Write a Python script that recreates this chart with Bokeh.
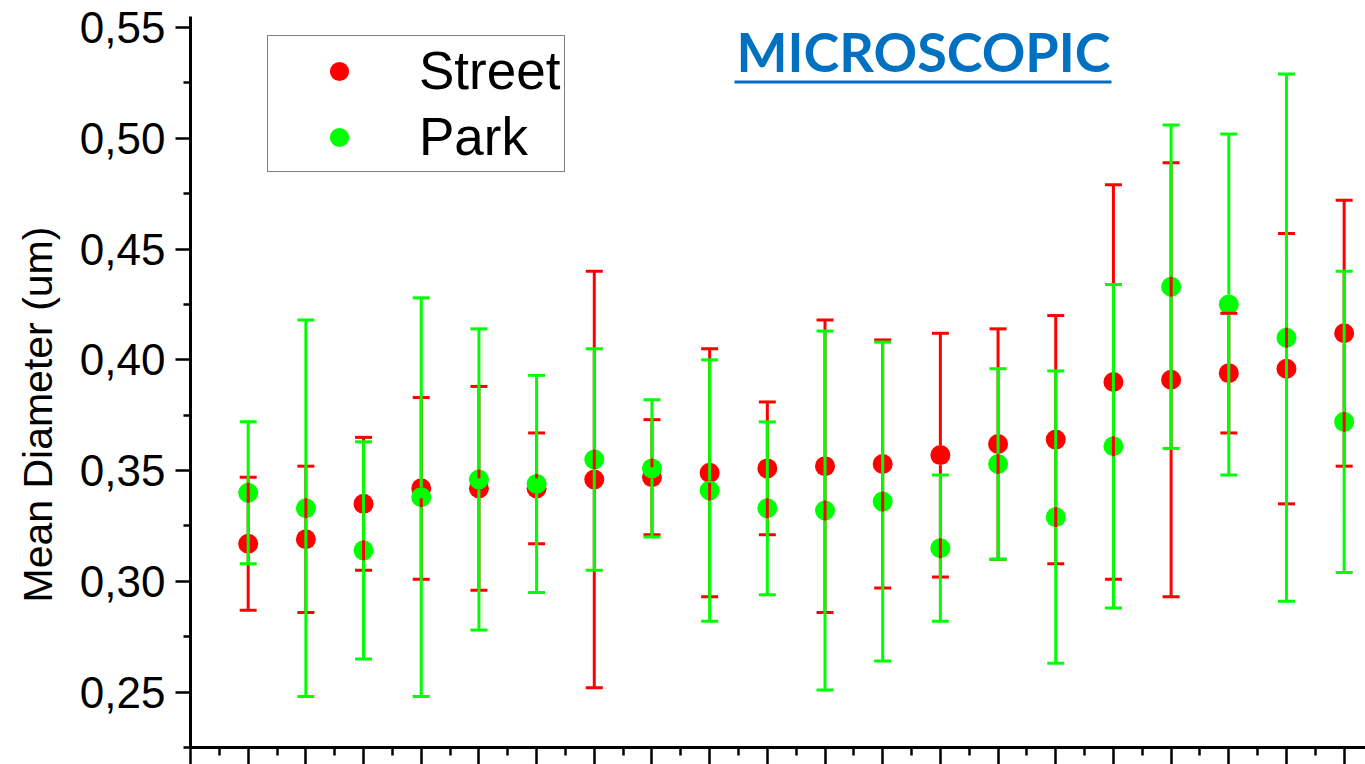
from bokeh.embed import file_html
from bokeh.models import (BoxAnnotation, CustomJSTickFormatter, FixedTicker, Label,
                          Legend, LegendItem, Range1d, Title)
from bokeh.plotting import figure
from bokeh.resources import INLINE

# Sampling sites along the x axis
sites = list(range(1, 21))

# Mean particle diameter (um) and its error, per site
street_mean = [0.317, 0.319, 0.335, 0.342, 0.342, 0.342, 0.346, 0.347, 0.349, 0.351,
               0.352, 0.353, 0.357, 0.362, 0.364, 0.390, 0.391, 0.394, 0.396, 0.412]
street_err = [0.030, 0.033, 0.030, 0.041, 0.046, 0.025, 0.094, 0.026, 0.056, 0.030,
              0.066, 0.056, 0.055, 0.052, 0.056, 0.089, 0.098, 0.027, 0.061, 0.060]

park_mean = [0.340, 0.333, 0.314, 0.338, 0.346, 0.344, 0.355, 0.351, 0.341, 0.333,
             0.332, 0.336, 0.315, 0.353, 0.329, 0.361, 0.433, 0.425, 0.410, 0.372]
park_err = [0.032, 0.085, 0.049, 0.090, 0.068, 0.049, 0.050, 0.031, 0.059, 0.039,
            0.081, 0.072, 0.033, 0.043, 0.066, 0.073, 0.073, 0.077, 0.119, 0.068]

y_ticks = [0.25, 0.30, 0.35, 0.40, 0.45, 0.50, 0.55]
y_tick_labels = ["0,25", "0,30", "0,35", "0,40", "0,45", "0,50", "0,55"]
x_ticks = list(range(0, 21))

RED = "#FF0000"
GREEN = "#00FF00"
BLUE = "#0070C0"

W, H = 1365, 764
LEFT, TOP, BOTTOM = 190, 16, 17
Y0, Y1 = 0.225, 0.555
X0, X1 = 0, 20.37
DOT = 20  # marker diameter in px

p = figure(width=W, height=H, x_range=Range1d(X0, X1), y_range=Range1d(Y0, Y1),
           output_backend="svg", toolbar_location=None,
           min_border_left=LEFT, min_border_right=0,
           min_border_top=TOP, min_border_bottom=BOTTOM)
p.grid.visible = False
p.outline_line_color = None
p.background_fill_color = "white"
p.border_fill_color = "white"

# error stems stop at the edge of their own marker
units_per_px = (Y1 - Y0) / (H - TOP - BOTTOM)
gap = (DOT / 2) * units_per_px


def stems(mean, err):
    up0 = [m + gap for m in mean]
    up1 = [m + e for m, e in zip(mean, err)]
    lo0 = [m - e for m, e in zip(mean, err)]
    lo1 = [m - gap for m in mean]
    return up0, up1, lo0, lo1


r_street = p.scatter(sites, street_mean, size=DOT, fill_color=RED, line_color=None)
r_park = p.scatter(sites, park_mean, size=DOT, fill_color=GREEN, line_color=None)

for mean, err, color in ((street_mean, street_err, RED), (park_mean, park_err, GREEN)):
    up0, up1, lo0, lo1 = stems(mean, err)
    p.segment(sites, up0, sites, up1, line_color=color, line_width=3)
    p.segment(sites, lo0, sites, lo1, line_color=color, line_width=3)
    p.scatter(sites, up1, marker="dash", size=17, line_color=color, line_width=3)
    p.scatter(sites, lo0, marker="dash", size=17, line_color=color, line_width=3)

# y axis
ya = p.yaxis[0]
ya.ticker = FixedTicker(ticks=y_ticks,
                        minor_ticks=[t + 0.025 for t in y_ticks[:-1]] + [0.225])
ya.major_label_overrides = dict(zip(y_ticks, y_tick_labels))
ya.major_label_text_font = "Liberation Sans"
ya.major_label_text_font_size = "44px"
ya.major_label_text_color = "black"
ya.major_label_standoff = 10
ya.major_tick_in = 0
ya.major_tick_out = 15
ya.minor_tick_in = 0
ya.minor_tick_out = 7
ya.major_tick_line_width = 2.5
ya.minor_tick_line_width = 2.5
ya.axis_line_width = 3

# x axis
xa = p.xaxis[0]
xa.ticker = FixedTicker(ticks=x_ticks, minor_ticks=[t + 0.5 for t in x_ticks])
xa.formatter = CustomJSTickFormatter(code="return ''")
xa.major_label_text_font_size = "0px"
xa.major_label_standoff = 0
xa.major_tick_in = 0
xa.major_tick_out = 17
xa.minor_tick_in = 0
xa.minor_tick_out = 8
xa.major_tick_line_width = 2.5
xa.minor_tick_line_width = 2.5
xa.axis_line_width = 3

# axis title, rotated, in the left border
p.add_layout(Title(text="Mean Diameter (um)", align="left", offset=145,
                   vertical_align="top", standoff=28,
                   text_font="Liberation Sans", text_font_style="normal",
                   text_font_size="41px", text_color="black"), "left")

# underlined heading
p.add_layout(Label(x=923 - LEFT, y=696, x_units="screen", y_units="screen",
                   text="MICROSCOPIC", text_align="center", text_baseline="alphabetic",
                   text_font="Lato", text_font_style="bold", text_font_size="54px",
                   text_color=BLUE))
p.add_layout(BoxAnnotation(left=734 - LEFT, right=1111 - LEFT, bottom=747 - 83, top=747 - 80,
                           left_units="screen", right_units="screen",
                           bottom_units="screen", top_units="screen",
                           fill_color=BLUE, fill_alpha=1, line_color=None))

legend = Legend(items=[LegendItem(label="Street", renderers=[r_street]),
                       LegendItem(label="Park", renderers=[r_park])],
                location=(77, 575), orientation="vertical",
                padding=4, spacing=5, margin=0,
                glyph_width=134, glyph_height=48, label_standoff=13, label_height=55,
                label_text_font="Liberation Sans", label_text_font_size="53px",
                label_text_color="black",
                border_line_color="black", border_line_width=1.5,
                background_fill_color="white", background_fill_alpha=1)
p.add_layout(legend)

open("out.html", "w").write(file_html(p, INLINE))
